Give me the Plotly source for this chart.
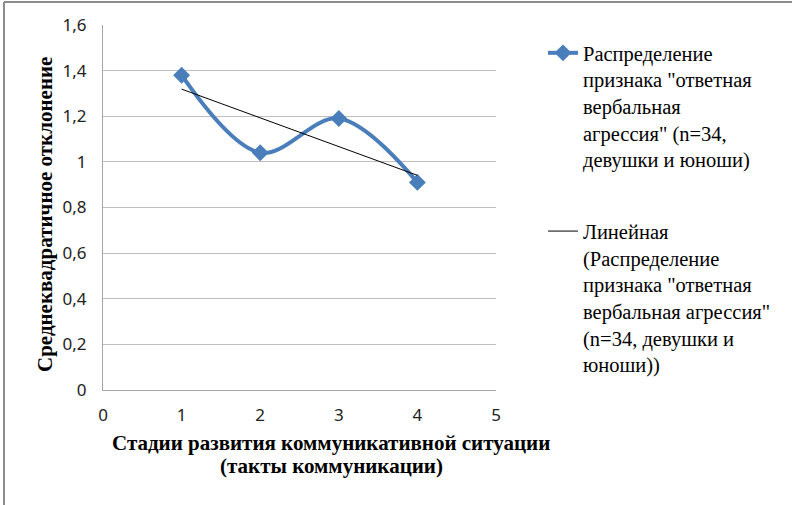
import numpy as np
import plotly.graph_objects as go

# Data
stages = [1, 2, 3, 4]
values = [1.38, 1.04, 1.19, 0.91]
x_ticks = [0, 1, 2, 3, 4, 5]
y_ticks = [0, 0.2, 0.4, 0.6, 0.8, 1.0, 1.2, 1.4, 1.6]
y_tick_labels = ["0", "0,2", "0,4", "0,6", "0,8", "1", "1,2", "1,4", "1,6"]

series_name = 'Распределение<br>признака "ответная<br>вербальная<br>агрессия" (n=34,<br>девушки и юноши)'
trend_name = 'Линейная<br>(Распределение<br>признака "ответная<br>вербальная агрессия"<br>(n=34, девушки и<br>юноши))'
x_title_lines = ["<b>Стадии развития коммуникативной ситуации</b>", "<b>(такты коммуникации)</b>"]
y_title = "<b>Среднеквадратичное отклонение</b>"

# Linear trend (least squares) from the data
slope, intercept = np.polyfit(stages, values, 1)
trend_x = [stages[0], stages[-1]]
trend_y = [slope * x + intercept for x in trend_x]

# Layout geometry (pixels)
W, H = 792, 505
L, R, T, B = 103, 296, 25, 115
pw, ph = W - L - R, H - T - B

def px_x(p):
    return (p - L) / pw

def px_y(p):
    return (H - B - p) / ph

SERIF = "Liberation Serif, Times New Roman, DejaVu Serif, serif"

fig = go.Figure()
fig.add_trace(go.Scatter(
    x=stages, y=values, mode="lines+markers", name=series_name,
    line=dict(color="#4a7ebb", width=4, shape="spline", smoothing=1),
    marker=dict(symbol="diamond", size=13, color="#4a7ebb"),
    legendgroup="a",
))
fig.add_trace(go.Scatter(
    x=trend_x, y=trend_y, mode="lines", name=trend_name,
    line=dict(color="#000000", width=1),
    legendgroup="b",
))

tick_font = dict(family="Noto Sans", size=17, color="#222222")

title_ann = [
    dict(text=x_title_lines[0], xref="paper", yref="paper", x=px_x(331), y=px_y(443),
         xanchor="center", yanchor="middle", showarrow=False,
         font=dict(family=SERIF, size=21, color="#000000")),
    dict(text=x_title_lines[1], xref="paper", yref="paper", x=px_x(331), y=px_y(466),
         xanchor="center", yanchor="middle", showarrow=False,
         font=dict(family=SERIF, size=21, color="#000000")),
    dict(text=y_title, xref="paper", yref="paper", x=px_x(45), y=px_y(215),
         xanchor="center", yanchor="middle", showarrow=False, textangle=-90,
         font=dict(family=SERIF, size=21, color="#000000")),
]

fig.update_layout(
    width=W, height=H,
    margin=dict(l=L, r=R, t=T, b=B),
    paper_bgcolor="white", plot_bgcolor="white",
    separators=", ",
    showlegend=True,
    legend=dict(
        x=px_x(543), y=px_y(33), xanchor="left", yanchor="top",
        font=dict(family=SERIF, size=20.5, color="#000000"),
        valign="top", tracegroupgap=42, traceorder="grouped",
        bgcolor="rgba(0,0,0,0)",
    ),
    xaxis=dict(
        range=[0, 5], tickvals=x_ticks, showgrid=False, zeroline=False,
        showline=True, linecolor="#a6a6a6", linewidth=1,
        ticks="outside", ticklen=10, tickcolor="rgba(0,0,0,0)",
        tickfont=tick_font, fixedrange=True,
    ),
    yaxis=dict(
        range=[0, 1.6], tickvals=y_ticks, ticktext=y_tick_labels,
        showgrid=True, gridcolor="#bfbfbf", gridwidth=1, zeroline=False,
        showline=True, linecolor="#a6a6a6", linewidth=1,
        ticks="outside", ticklen=12, tickcolor="rgba(0,0,0,0)",
        tickfont=tick_font, fixedrange=True,
    ),
    annotations=title_ann,
    shapes=[
        dict(type="line", xref="paper", yref="paper", x0=px_x(4), x1=px_x(4),
             y0=px_y(2), y1=px_y(H), line=dict(color="#8c8c8c", width=2)),
        dict(type="line", xref="paper", yref="paper", x0=px_x(4), x1=px_x(W),
             y0=px_y(2), y1=px_y(2), line=dict(color="#8c8c8c", width=2)),
    ],
)

fig.write_html(
    "out.html",
    config={"displayModeBar": False},
    post_script="document.body.style.margin='0';document.body.style.overflow='hidden';",
)
